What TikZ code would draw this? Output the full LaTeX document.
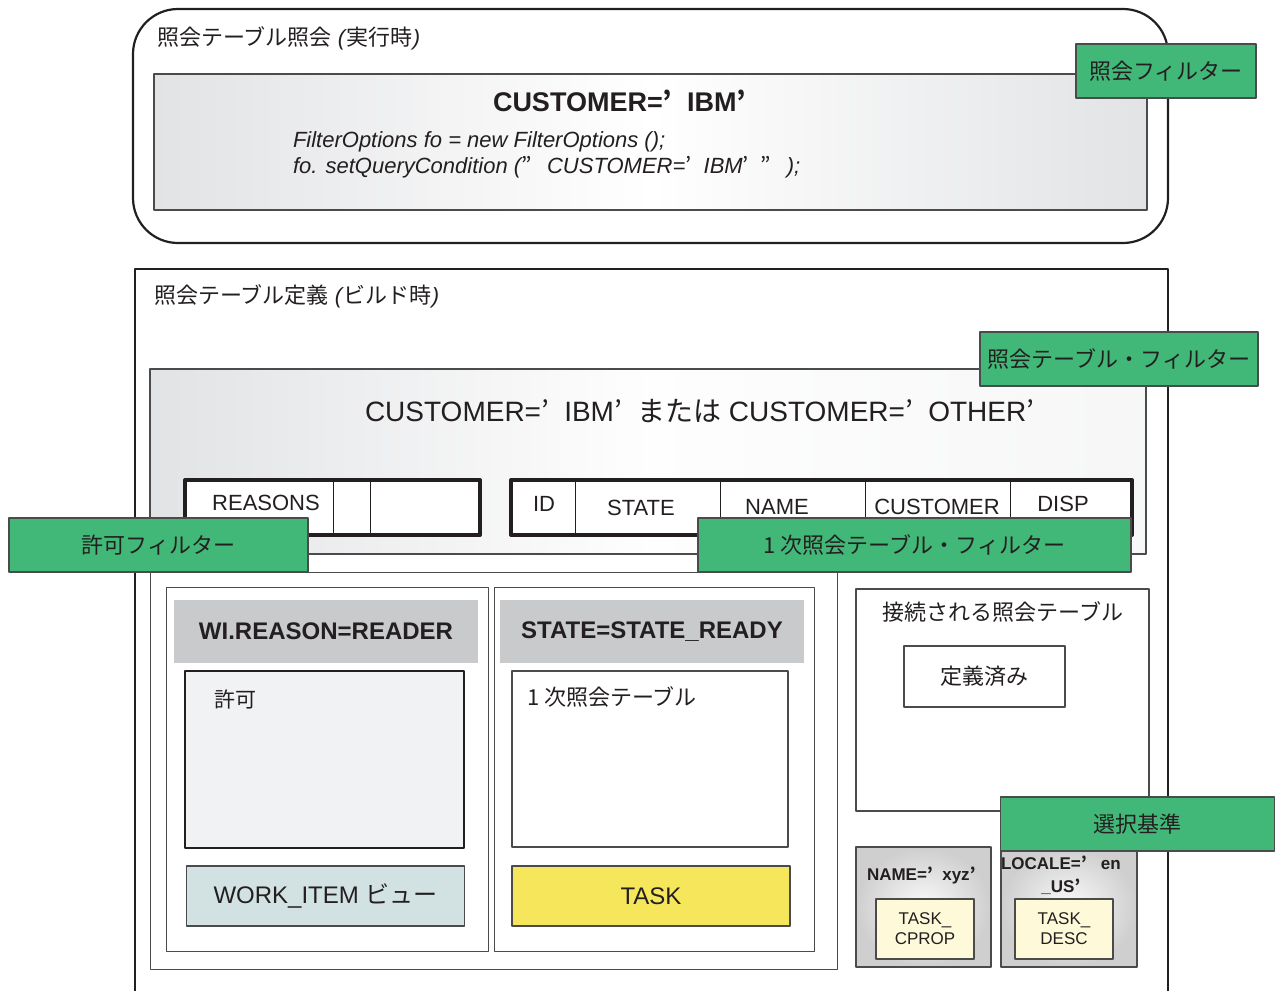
\documentclass[tikz,border=0pt]{standalone}
\usepackage{fontspec}
\setmainfont{Liberation Sans}
\newfontfamily\jp{Noto Sans CJK JP}
\usepackage{tikz}

\definecolor{labelgreen}{RGB}{65,184,119}
\definecolor{headgray}{RGB}{201,202,204}
\definecolor{permitfill}{RGB}{241,242,243}
\definecolor{viewfill}{RGB}{210,226,226}
\definecolor{taskyellow}{RGB}{245,230,92}
\definecolor{paleyellow}{RGB}{254,249,216}
\definecolor{shadegray}{RGB}{226,227,229}
\definecolor{edgegray}{RGB}{75,75,75}
\definecolor{inkblack}{RGB}{35,31,32}

\newcommand{\jq}{{\jp ’}\hspace{0.55em}}
\newcommand{\jdq}{{\jp ”}\hspace{0.7em}}
\newcommand{\px}[1]{\fontsize{#1}{#1}\selectfont}
\newcommand{\pxl}[2]{\fontsize{#1}{#2}\selectfont}

\begin{document}
\begin{tikzpicture}[
						x=1pt, y=-1pt,
						line join=round,
						every node/.style={inner sep=0pt, outer sep=0pt, text=inkblack},
						frame/.style={draw=edgegray, line width=1.2pt},
						greenlabel/.style={draw=edgegray, line width=1.2pt, fill=labelgreen, minimum height=54pt, font=\jp\px{22}},
						headbox/.style={fill=headgray, minimum width=304pt, minimum height=63pt, font=\bfseries\px{24}},
						bodybox/.style={draw=edgegray, line width=1.2pt, minimum width=278pt, minimum height=60pt, font=\px{24}},
						tinybox/.style={draw=edgegray, line width=1.2pt, fill=paleyellow, minimum width=98pt, minimum height=60pt, align=center, font=\pxl{17}{20}},
						colhead/.style={font=\px{22}}
						]
						
						\useasboundingbox (0,0) rectangle (1276,991);
						
						% Run time query
						\draw[inkblack, line width=2.2pt, rounded corners=45pt] (133,9) rectangle (1168,243);
						\node[anchor=west, font=\px{22}] (rtTitle) at (157,38) {{\jp 照会テーブル照会} \textit{(}{\jp 実行時}\textit{)}};
						\shade[left color=shadegray, right color=shadegray, middle color=white] (154,74) rectangle (1147,210);
						\draw[frame] (154,74) rectangle (1147,210);
						\node[anchor=west, font=\bfseries\px{27}] (rtCond) at (493,101) {CUSTOMER=\jq IBM\jq};
						\node[anchor=west, font=\itshape\px{22}] (rtCodeA) at (293,142) {FilterOptions fo = new FilterOptions ();};
						\node[anchor=west, font=\itshape\px{22}] (rtCodeB) at (293,167) {fo. setQueryCondition (\jdq CUSTOMER=\jq IBM\jq\jdq);};
						
						% Build time definition
						\draw[inkblack, line width=2.4pt] (135,991) -- (135,269) -- (1168,269) -- (1168,991);
						\node[anchor=west, font=\px{22}] (btTitle) at (154,296) {{\jp 照会テーブル定義} \textit{(}{\jp ビルド時}\textit{)}};
						\shade[left color=shadegray, right color=shadegray!30, middle color=white!96!shadegray] (150,369) rectangle (1146,554);
						\draw[frame] (150,369) rectangle (1146,554);
						\node[anchor=west, font=\px{28}] (btCond) at (365,411) {CUSTOMER=\jq IBM\jq{\jp または} CUSTOMER=\jq OTHER{\jp ’}};
						
						% Tables
						\fill[white] (185,480) rectangle (480,535);
						\fill[white] (511,480) rectangle (1132,535);
						\foreach \cx in {333,370,575,720,865,1010}
							\draw[inkblack, line width=1pt] (\cx,480) -- (\cx,535);
						\draw[inkblack, line width=4pt] (185,480) rectangle (480,535);
						\draw[inkblack, line width=4pt] (511,480) rectangle (1132,535);
						\node[colhead] (colReasons) at (266,503) {REASONS};
						\node[colhead] (colId) at (544,504) {ID};
						\node[colhead] (colState) at (641,508) {STATE};
						\node[colhead] (colName) at (777,507) {NAME};
						\node[colhead] (colCustomer) at (937,507) {CUSTOMER};
						\node[colhead] (colDisp) at (1063,504) {DISP};
						
						% Filters
						\draw[frame, line width=1pt] (150,572) rectangle (837,969);
						\draw[frame, line width=1pt] (166,587) rectangle (488,951);
						\draw[frame, line width=1pt] (494,587) rectangle (814,951);
						
						\node[headbox] (permitCond) at (326,631.5) {WI.REASON=READER};
						\filldraw[fill=permitfill, draw=inkblack, line width=2pt] (185,671) rectangle (464,848);
						\node[anchor=west, font=\jp\px{21}] (permitText) at (214,699) {許可};
						\node[bodybox, fill=viewfill] (viewText) at (325.5,896) {WORK\_ITEM {\jp ビュー}};
						
						\node[headbox] (stateCond) at (652,631.5) {STATE=STATE\_READY};
						\draw[frame] (512,671) rectangle (788,847);
						\node[anchor=west, font=\jp\px{22}] (primText) at (527,697) {1 次照会テーブル};
						\node[bodybox, fill=taskyellow] (taskText) at (651,896) {TASK};
						
						% Joined tables
						\draw[frame] (856,589) rectangle (1149,811);
						\node[font=\jp\px{22}] (joinTitle) at (1003,612) {接続される照会テーブル};
						\node[draw=edgegray, line width=1.2pt, minimum width=161pt, minimum height=61pt, font=\jp\px{22}] (joinDef) at (984.5,676.5) {定義済み};
						
						\shade[inner color=gray!4, outer color=gray!38] (856,847) rectangle (991,967);
						\draw[frame] (856,847) rectangle (991,967);
						\shade[inner color=gray!4, outer color=gray!38] (1001,847) rectangle (1137,967);
						\draw[frame] (1001,847) rectangle (1137,967);
						\node[anchor=west, font=\bfseries\px{17}] (nameCond) at (867,875) {NAME=\jq xyz{\jp ’}};
						\node[anchor=west, align=center, font=\bfseries\pxl{17}{23}] (localeCond) at (1001,875) {LOCALE=\jq\ en\\{\_}US{\jp ’}};
						\node[tinybox] (cpropText) at (925,929) {TASK{\_}\\CPROP};
						\node[tinybox] (descText) at (1064,929) {TASK{\_}\\DESC};
						
						% Labels
						\node[greenlabel, minimum width=180pt] (qfLabel) at (1166,71) {照会フィルター};
						\node[greenlabel, minimum width=278pt] (tfLabel) at (1119,359) {照会テーブル・フィルター};
						\node[greenlabel, minimum width=299pt] (pfLabel) at (158.5,545) {許可フィルター};
						\node[greenlabel, minimum width=433pt] (ptfLabel) at (914.5,545) {1 次照会テーブル・フィルター};
						\node[greenlabel, minimum width=274pt] (selLabel) at (1137.5,824) {選択基準};
						
					\end{tikzpicture}
\end{document}
